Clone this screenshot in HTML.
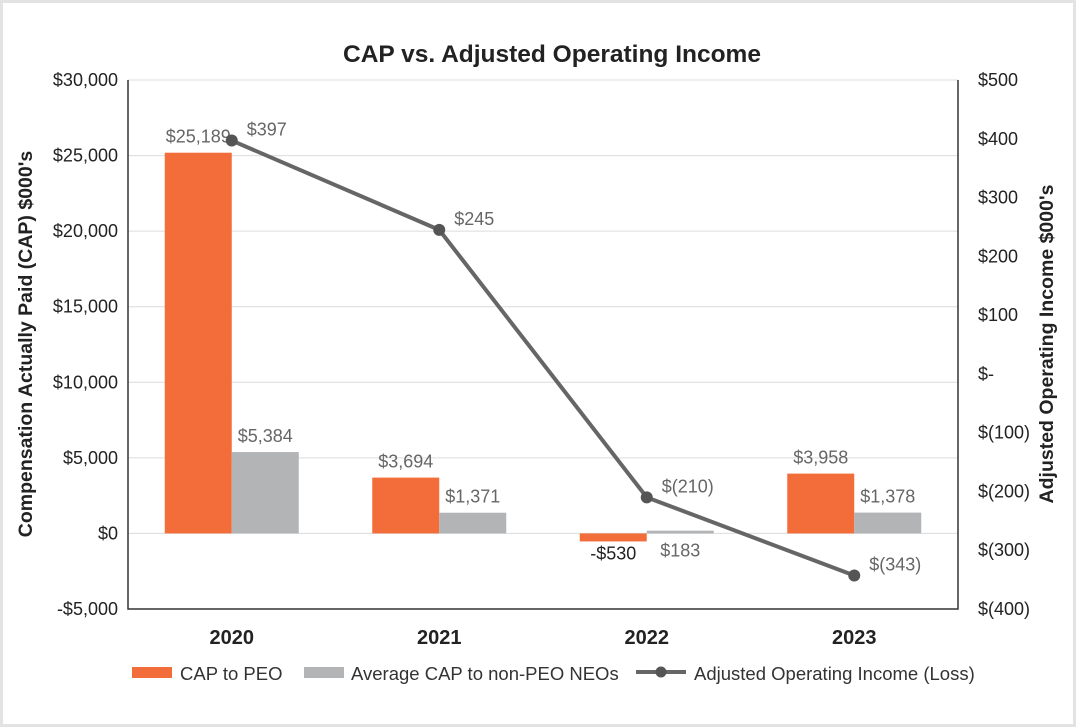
<!DOCTYPE html>
<html><head><meta charset="utf-8"><style>
body{margin:0;background:#fff;}
svg{display:block;font-family:"Liberation Sans",Arial,sans-serif;}
</style></head><body>
<svg id="c" width="1076" height="728" viewBox="0 0 1076 728">
<rect x="1.5" y="1.5" width="1073" height="724" fill="#fff" stroke="#e3e3e3" stroke-width="3"/>
<text x="552" y="62" text-anchor="middle" font-size="24.5" font-weight="bold" fill="#222">CAP vs. Adjusted Operating Income</text>
<g id="grid"></g>
<g id="bars"></g>
<g id="axes"></g>
<g id="line"></g>
<text transform="translate(32,344) rotate(-90)" text-anchor="middle" font-size="19.5" font-weight="bold" fill="#222">Compensation Actually Paid (CAP) $000's</text>
<text transform="translate(1053,344) rotate(-90)" text-anchor="middle" font-size="19.5" font-weight="bold" fill="#222">Adjusted Operating Income $000's</text>
<g>
<rect x="132" y="667" width="40" height="11" fill="#f26d3a"/>
<text x="180" y="680" font-size="18.5" fill="#333">CAP to PEO</text>
<rect x="304" y="667" width="40" height="11" fill="#b3b4b6"/>
<text x="351" y="680" font-size="18.5" fill="#333">Average CAP to non-PEO NEOs</text>
<line x1="636" y1="672" x2="686" y2="672" stroke="#666" stroke-width="4"/>
<circle cx="661" cy="672" r="5.5" fill="#555"/>
<text x="694" y="680" font-size="18.5" fill="#333">Adjusted Operating Income (Loss)</text>
</g>
</svg>
<script>
const years=["2020","2021","2022","2023"];
const capPEO=[25189,3694,-530,3958];
const capNEO=[5384,1371,183,1378];
const income=[397,245,-210,-343];
const capLabels=["$25,189","$3,694","-$530","$3,958"];
const neoLabels=["$5,384","$1,371","$183","$1,378"];
const incLabels=["$397","$245","$(210)","$(343)"];
const leftTicks=[-5000,0,5000,10000,15000,20000,25000,30000];
const leftTickLabels=["-$5,000","$0","$5,000","$10,000","$15,000","$20,000","$25,000","$30,000"];
const rightTicks=[-400,-300,-200,-100,0,100,200,300,400,500];
const rightTickLabels=["$(400)","$(300)","$(200)","$(100)","$-","$100","$200","$300","$400","$500"];

const NS="http://www.w3.org/2000/svg";
const L=128,R=958,T=80,B=609;
const yL=v=>B-(v+5000)/35000*(B-T);
const yR=v=>B-(v+400)/900*(B-T);
const band=(R-L)/years.length;
const xc=i=>L+band*(i+0.5);
const bw=67;
function mk(tag,attrs,parent,txt){const e=document.createElementNS(NS,tag);for(const k in attrs)e.setAttribute(k,attrs[k]);if(txt!==undefined)e.textContent=txt;parent.appendChild(e);return e;}
const grid=document.getElementById('grid'),bars=document.getElementById('bars'),axes=document.getElementById('axes'),line=document.getElementById('line');
leftTicks.forEach((v,i)=>{
 if(v>-5000){const g=mk('line',{x1:L,x2:R,y1:yL(v),y2:yL(v),stroke:'#dcdcdc','stroke-width':1},grid);
 
 }
 const t=mk('text',{x:L-10,y:yL(v)+6,'text-anchor':'end','font-size':18,fill:'#222'},axes,leftTickLabels[i]);
 
 
});
rightTicks.forEach((v,i)=>{
 const t=mk('text',{x:R+20,y:yR(v)+6,'font-size':18,fill:'#222'},axes,rightTickLabels[i]);
 
 
});
const frame=mk('path',{d:`M${L},${T} V${B} H${R} V${T}`,fill:'none',stroke:'#333','stroke-width':1.5},axes);


years.forEach((y,i)=>{
 const x=xc(i);
 const t=mk('text',{x:x,y:644,'text-anchor':'middle','font-size':20,'font-weight':'bold',fill:'#222'},axes,y);
 
 
 const a=capPEO[i],y0=yL(0),ya=yL(a);
 const b1=mk('rect',{x:x-bw,y:Math.min(y0,ya),width:bw,height:Math.abs(ya-y0),fill:'#f26d3a'},bars);
 
 
 const b=capNEO[i],yb=yL(b);
 const b2=mk('rect',{x:x,y:Math.min(y0,yb),width:bw,height:Math.max(Math.abs(yb-y0),2.5),fill:'#b3b4b6'},bars);
 
 
 const l1=mk('text',{x:x-bw/2,y:a<0?y0+26:ya-10,'text-anchor':'middle','font-size':18,fill:a<0?'#222':'#666'},bars,capLabels[i]);
 
 
 const l2=mk('text',{x:x+bw/2,y:b<1000?y0+23:yb-10,'text-anchor':'middle','font-size':18,fill:'#666'},bars,neoLabels[i]);
 
 
});
const pts=income.map((v,i)=>xc(i)+','+yR(v)).join(' ');
const pl=mk('polyline',{points:pts,fill:'none',stroke:'#666','stroke-width':4,'stroke-linejoin':'round'},line);


income.forEach((v,i)=>{
 const c=mk('circle',{cx:xc(i),cy:yR(v),r:6,fill:'#555'},line);
 
 
 const t=mk('text',{x:xc(i)+15,y:yR(v)-5,'font-size':18,fill:'#666'},line,incLabels[i]);
 
 
});
</script>
</body></html>
